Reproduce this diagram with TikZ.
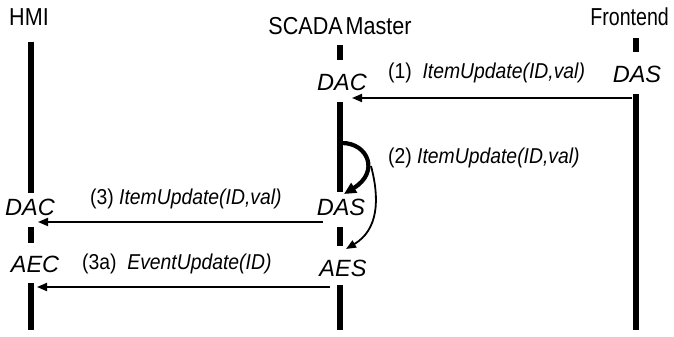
\documentclass[tikz,border=0pt]{standalone}
\usepackage{fontspec}
\setmainfont{Liberation Sans}
\newfontfamily\headfam[FakeStretch=0.88]{Liberation Sans}
\newfontfamily\headnarrow[FakeStretch=0.8]{Liberation Sans}
\newfontfamily\msgfam[FakeStretch=0.9]{Liberation Sans}
\usetikzlibrary{arrows.meta}
\begin{document}
\begin{tikzpicture}[x=1pt,y=-1pt,
  head/.style={font=\headfam\fontsize{24.5}{28}\selectfont, inner sep=0pt, anchor=center},
  role/.style={font=\fontsize{23.5}{26}\selectfont\itshape, inner sep=0pt, anchor=center},
  msg/.style={font=\msgfam\fontsize{21.5}{24}\selectfont, inner sep=0pt, anchor=west},
  life/.style={line width=6.5pt},
  call/.style={line width=1.8pt, -{Triangle[length=10pt,width=8pt]}},
  selfcall/.style={line width=4.2pt, -{Triangle[length=12pt,width=11pt]}},
  selfthin/.style={line width=1.8pt, -{Triangle[length=10pt,width=8pt]}}]
\useasboundingbox (0,0) rectangle (674,337);
% headings
\node[head] (hmi) at (29,17) {HMI};
\node[head] (scada) at (340,26) {SCADA\kern-3pt\ Master};
\node[head, font=\headnarrow\fontsize{24.5}{28}\selectfont, anchor=east] (fe) at (669,17) {Frontend};
% lifelines
\draw[life] (31,42) -- (31,193);
\draw[life] (31,227) -- (31,243);
\draw[life] (31,283) -- (31,330);
\draw[life] (340,45) -- (340,60);
\draw[life] (340,102) -- (340,192);
\draw[life] (340,227) -- (340,246);
\draw[life] (340,285) -- (340,330);
\draw[life] (636,38) -- (636,52);
\draw[life] (636,94) -- (636,330);
% role labels
\node[role] (dacS) at (342,82) {DAC};
\node[role] (dasF) at (637,74) {DAS};
\node[role] (dacH) at (30,207) {DAC};
\node[role] (dasS) at (341,207) {DAS};
\node[role] (aecH) at (35,264) {AEC};
\node[role] (aesS) at (343,268) {AES};
% message labels
\node[msg] (m1) at (388,73) {(1)\ \ \textit{ItemUpdate(ID,val)}};
\node[msg] (m2) at (388,158) {(2) \textit{ItemUpdate(ID,val)}};
\node[msg] (m3) at (90,199) {(3) \textit{ItemUpdate(ID,val)}};
\node[msg] (m3a) at (82,264) {(3a)\ \ \textit{EventUpdate(ID)}};
% connector end points
\coordinate (a1s) at (632,98);
\coordinate (a1e) at (352,98);
\coordinate (a3s) at (323,222);
\coordinate (a3e) at (38,222);
\coordinate (a3as) at (330,287);
\coordinate (a3ae) at (37,287);
\coordinate (c1s) at (342,143);
\coordinate (c1e) at (344,194);
\coordinate (c2s) at (371,166);
\coordinate (c2e) at (346,249);
% connectors
\draw[call] (a1s) -- (a1e);
\draw[call] (a3s) -- (a3e);
\draw[call] (a3as) -- (a3ae);
\draw[selfcall] (c1s) .. controls (368,143) and (380,172) .. (c1e);
\draw[selfthin] (c2s) .. controls (380,200) and (378,230) .. (c2e);
\end{tikzpicture}
\end{document}
